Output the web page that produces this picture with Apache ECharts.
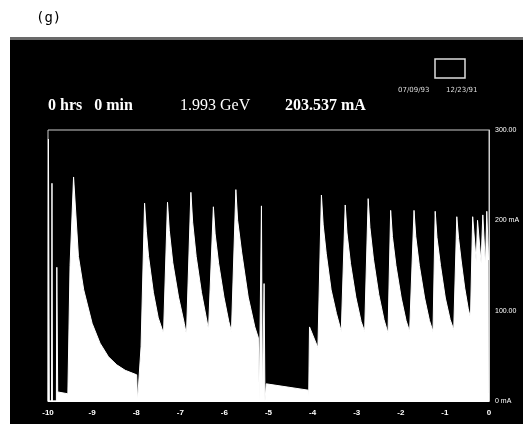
<!DOCTYPE html>
<html lang="en">
<head>
    <meta charset="UTF-8"/>
    <title>Beam Current History</title>
    <script src="https://cdn.jsdelivr.net/npm/echarts@6/dist/echarts.min.js"></script>
    <style>
        html, body { margin: 0; padding: 0; background: #fff; }
    </style>
</head>
<body>
<div id="main" style="width: 523px;height:428px;"></div>
<script type="text/javascript">
    // hours before now
    var hours = [
        -10.00, -9.99, -9.97, -9.92, -9.91, -9.90, -9.81, -9.80, -9.78, -9.55,
        -9.53, -9.50, -9.42, -9.31, -9.19, -9.00, -8.82, -8.63, -8.44, -8.25,
        -7.99, -7.97, -7.94, -7.89,
        -7.81, -7.77, -7.72, -7.61, -7.50, -7.38,
        -7.29, -7.25, -7.17, -7.04, -6.91, -6.86,
        -6.76, -6.72, -6.64, -6.52, -6.41, -6.36,
        -6.25, -6.21, -6.13, -6.01, -5.90, -5.84,
        -5.74, -5.70, -5.61, -5.46, -5.31, -5.23,
        -5.21, -5.17, -5.16, -5.14, -5.11, -5.10, -5.08, -5.06, -5.05, -4.10,
        -4.09, -4.08, -4.07, -3.88,
        -3.80, -3.76, -3.69, -3.58, -3.46, -3.35,
        -3.26, -3.22, -3.14, -3.02, -2.90, -2.82,
        -2.74, -2.70, -2.62, -2.50, -2.38, -2.29,
        -2.23, -2.19, -2.11, -1.99, -1.88, -1.80,
        -1.70, -1.66, -1.58, -1.46, -1.35, -1.27,
        -1.22, -1.18, -1.10, -0.99, -0.88, -0.80,
        -0.73, -0.69, -0.63, -0.55, -0.47, -0.42,
        -0.37, -0.29, -0.26, -0.18, -0.14, -0.08, -0.05, -0.01, 0.00
    ];
    // stored beam current, mA
    var current = [
        0, 290, 0, 0, 241, 0, 0, 148, 10, 8,
        10, 150, 248, 160, 123, 86, 64, 49, 40, 34,
        29, 0, 0, 60,
        219, 188, 160, 120, 92, 75,
        220, 189, 153, 115, 86, 73,
        231, 198, 160, 120, 92, 79,
        215, 185, 152, 115, 88, 77,
        234, 200, 165, 115, 82, 70,
        0, 0, 216, 0, 0, 130, 0, 0, 19, 12,
        0, 0, 82, 59,
        228, 195, 163, 123, 97, 77,
        217, 186, 152, 115, 88, 77,
        224, 192, 157, 118, 90, 75,
        211, 182, 150, 114, 89, 77,
        211, 182, 150, 114, 89, 77,
        210, 181, 150, 114, 90, 79,
        204, 180, 155, 125, 102, 92,
        204, 154, 200, 153, 206, 149, 210, 156, 156
    ];
    var yLabels = { 0: '0 mA', 100: '100.00', 200: '200 mA', 300: '300.00' };

    var points = [];
    for (var i = 0; i < hours.length; i++) {
        points.push([hours[i], current[i]]);
    }

    var myChart = echarts.init(document.getElementById('main'));

    var option = {
        backgroundColor: '#fff',
        animation: false,
        graphic: [
            { type: 'rect', z: -10, shape: { x: 10, y: 37, width: 513, height: 387 }, style: { fill: '#000' } },
            { type: 'rect', z: -9, shape: { x: 10, y: 37, width: 513, height: 3 }, style: { fill: '#6a6a6a' } },
            { type: 'text', left: 36, top: 11, style: { text: '(g)', fill: '#000', font: '14px "DejaVu Sans Mono"' } },
            { type: 'text', left: 48, top: 98, style: { text: '0 hrs   0 min', fill: '#fff', font: 'bold 16px "Liberation Serif"' } },
            { type: 'text', left: 180, top: 98, style: { text: '1.993 GeV', fill: '#fff', font: '16px "Liberation Serif"' } },
            { type: 'text', left: 285, top: 98, style: { text: '203.537 mA', fill: '#fff', font: 'bold 16px "Liberation Serif"' } },
            { type: 'text', left: 398, top: 87, style: { text: '07/09/93', fill: '#ddd', font: '7px "DejaVu Sans"' } },
            { type: 'text', left: 446, top: 87, style: { text: '12/23/91', fill: '#ddd', font: '7px "DejaVu Sans"' } },
            { type: 'rect', shape: { x: 435, y: 59, width: 30, height: 19 }, style: { fill: 'none', stroke: '#ddd', lineWidth: 1.5 } }
        ],
        grid: {
            left: 48,
            right: 34,
            top: 130,
            bottom: 27,
            show: true,
            backgroundColor: '#000',
            borderColor: '#ccc',
            borderWidth: 1
        },
        xAxis: {
            type: 'value',
            min: -10,
            max: 0,
            interval: 1,
            axisLine: { lineStyle: { color: '#fff' } },
            axisTick: { show: false },
            splitLine: { show: false },
            axisLabel: { color: '#fff', fontSize: 8, fontWeight: 'bold', margin: 8 }
        },
        yAxis: {
            type: 'value',
            position: 'right',
            min: 0,
            max: 300,
            interval: 100,
            axisLine: { show: true, lineStyle: { color: '#ccc' } },
            axisTick: { show: false },
            splitLine: { show: false },
            axisLabel: {
                color: '#fff', fontSize: 7, margin: 6,
                formatter: function (v) { return yLabels[v]; }
            }
        },
        series: [
            {
                name: 'Beam current',
                type: 'line',
                data: points,
                showSymbol: false,
                sampling: null,
                lineStyle: { color: '#fff', width: 1 },
                areaStyle: { color: '#fff', opacity: 1 }
            }
        ]
    };

    myChart.setOption(option);
</script>
</body>
</html>
